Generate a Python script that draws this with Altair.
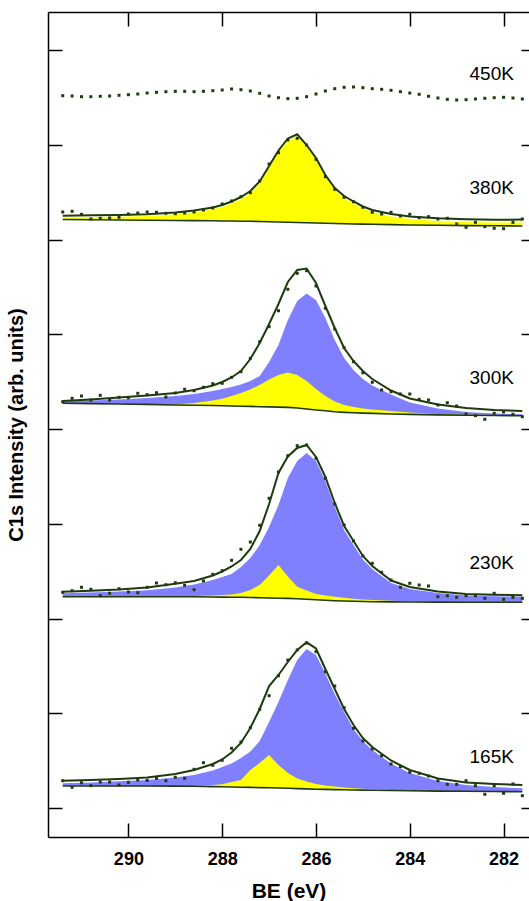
import altair as alt
import pandas as pd

# ---------------- data ----------------
BE_DOTS = [291.4, 291.2, 291.0, 290.8, 290.6, 290.4, 290.2, 290.0, 289.8, 289.6,
           289.4, 289.2, 289.0, 288.8, 288.6, 288.4, 288.2, 288.0, 287.8, 287.6,
           287.4, 287.2, 287.0, 286.8, 286.6, 286.4, 286.2, 286.0, 285.8, 285.6,
           285.4, 285.2, 285.0, 284.8, 284.6, 284.4, 284.2, 284.0, 283.8, 283.6,
           283.4, 283.2, 283.0, 282.8, 282.6, 282.4, 282.2, 282.0, 281.8, 281.6]

BE_FIT = [291.4, 290.8, 290.2, 289.6, 289.0, 288.6, 288.2, 288.0, 287.8, 287.6,
          287.4, 287.2, 287.0, 286.8, 286.6, 286.4, 286.2, 286.0, 285.8, 285.6,
          285.4, 285.2, 285.0, 284.8, 284.4, 284.0, 283.4, 282.8, 282.2, 281.6]

# 450K: raw data only
DOTS_450 = [712.3, 712, 711.3, 711.3, 711.7, 712, 712.7, 713.3, 714, 715,
            715.7, 716.3, 716.7, 716.7, 716.3, 716.7, 717.3, 718, 719, 718.3,
            717, 714.7, 712, 710.3, 709.3, 709.7, 711.3, 714, 717, 719.3,
            720.7, 721, 720.3, 719.3, 718.7, 717.7, 716.3, 715, 713.7, 711.7,
            710, 708.7, 708, 708.3, 709, 709.7, 710.3, 710.7, 710, 709]

# 380K
DOTS_380 = [596, 596.7, 593.7, 589, 589.7, 590, 590.7, 594, 595, 596,
            595.7, 594.7, 594.3, 595, 596, 598, 600, 604, 607, 611.3,
            615.3, 627, 644, 655.3, 668, 669.7, 663, 648.7, 631.3, 618.7,
            610.7, 606.3, 600.7, 595.7, 594, 595.7, 592, 593.7, 590.3, 591.3,
            589, 589.7, 584, 580.7, 585.7, 581.3, 579.7, 579.3, 585.7, 589]
ENV_380 = [592.3, 592.7, 593, 593.7, 595.5, 597.5, 600.5, 603, 606.5, 611,
           617, 626.5, 642, 657.5, 669.5, 673.7, 663, 650, 633, 620,
           612, 606.5, 601.5, 598, 594, 591.5, 589.7, 588.8, 588.2, 588.5]
YEL_380 = [590.5, 591, 591.2, 592, 593.7, 595.7, 598.7, 601, 604.5, 609,
           615, 624.5, 640, 655.5, 667.5, 671.5, 661, 648, 631, 618,
           610, 604.5, 599.5, 596, 591.5, 589, 587, 586, 585.5, 585.5]
BASE_380 = [588.5, 588.3, 588, 587.8, 587.5, 587.4, 587.2, 587, 587, 586.8,
            586.7, 586.5, 586.3, 586, 585.8, 585.5, 585.2, 585, 584.7, 584.5,
            584.3, 584, 583.9, 583.7, 583.4, 583, 582.7, 582.4, 582.2, 582]

# 300K
DOTS_300 = [406.3, 409.7, 412, 408, 412.7, 408, 410.7, 410.3, 414.7, 413.3,
            415.3, 411, 415, 418.7, 417.3, 420.7, 424.3, 424.7, 430.7, 436.3,
            449.7, 466.3, 481.3, 497.3, 518.7, 534.7, 537.3, 522, 499.7, 479,
            460.3, 446.3, 435.3, 425.7, 418, 416.3, 414, 414, 408.7, 408,
            403, 405.3, 402, 394, 392.3, 388.7, 394.7, 396, 393.7, 391.3]
ENV_300 = [407, 408.5, 410.5, 412.5, 415, 418, 422.5, 426, 430.5, 437,
           449, 465, 484, 504, 526, 538, 539.5, 525, 502, 480,
           460, 447, 437, 429, 417.5, 409.5, 403.5, 400, 398, 397]
BLUE_300 = [406.5, 407.5, 408.5, 410, 412, 414, 417, 419, 421, 423.5,
            427, 432, 446, 463, 488, 507, 514.5, 508, 490, 468,
            450, 438, 429, 422.5, 413.5, 405.5, 399.5, 396, 394.5, 393.7]
YEL_300 = [404.9, 404.6, 404.3, 404, 403.6, 405, 407.5, 409.3, 412, 415,
           418.5, 423, 428.5, 433, 435.5, 433, 427, 419, 412, 406.5,
           403, 401, 399.5, 398.5, 397, 395.5, 394, 393.3, 393, 392.7]
BASE_300 = [404.7, 404.4, 404, 403.6, 403, 402.8, 402.5, 402.3, 402, 401.8,
            401.6, 401.3, 401.1, 400.9, 400.6, 400, 399, 398, 397.2, 396.2,
            395.6, 395.2, 394.9, 394.6, 394, 393.6, 393.1, 392.8, 392.5, 392.3]

# 230K
DOTS_230 = [215.7, 217.3, 220.7, 218.7, 212.3, 214.7, 219.3, 216, 215.3, 220.7,
            225, 223.3, 225.3, 222.7, 218.3, 227, 233.7, 237.3, 247.7, 258.7,
            266, 282.7, 309.7, 336, 352.3, 362.3, 363, 349.7, 329.7, 304,
            283, 267, 252, 244.7, 235.7, 228, 220.7, 224.7, 223, 222,
            211.3, 212.3, 210.7, 212.3, 212.3, 209.7, 214.7, 208.7, 210.7, 209.7]
ENV_230 = [216.3, 217.2, 218.5, 220.5, 224.2, 227, 232.5, 236.5, 241.5, 248,
           259, 277, 304, 335, 351.5, 360, 363, 351, 331, 305,
           282, 267, 252, 242, 227.5, 221, 216.5, 214, 213.2, 212.7]
BLUE_230 = [214.7, 215.5, 216.5, 217.7, 220.5, 223.5, 228, 231, 234, 241,
            250, 263, 281, 303, 330, 347, 355, 347, 327, 301,
            278, 263, 248.5, 239, 225, 219, 215, 212.5, 211.7, 211.3]
YEL_230 = [211.5, 211.5, 211.5, 211.5, 211.7, 212, 212.5, 213, 213.5, 215,
           218, 223, 232.5, 243, 231.5, 221.3, 217.5, 214, 212.5, 211.2,
           210.2, 209.2, 208.5, 208, 207.2, 206.7, 206.3, 206, 205.8, 205.7]
BASE_230 = [211.3, 211.3, 211.3, 211.3, 211.3, 211.2, 211, 210.9, 210.8, 210.7,
            210.5, 210.3, 210, 209.8, 209.6, 209.2, 208.7, 208.2, 207.7, 207.3,
            207, 206.7, 206.5, 206.3, 206.1, 206, 205.9, 205.8, 205.7, 205.7]

# 165K
DOTS_165 = [27.3, 20.7, 25.3, 22.3, 26, 26, 23, 25.7, 28, 27.7,
            29.7, 27.3, 30.7, 29.7, 38.7, 45.3, 42.7, 47.7, 59.7, 66,
            80.3, 98.7, 112.3, 132.3, 148, 158, 165, 156.3, 136.3, 122,
            100.3, 79.7, 67, 59, 52.3, 44, 41.3, 35.7, 34.7, 32,
            27.3, 23.7, 23.7, 27.3, 22.3, 13.7, 22.3, 14.7, 24, 12.3]
ENV_165 = [27.3, 28, 29, 30.5, 34, 38, 44, 48.5, 55.5, 65,
           80, 99, 122, 133, 146, 158, 165.7, 159.5, 139, 119,
           99, 83, 70, 61, 47.5, 38, 29.5, 25.5, 24, 23]
BLUE_165 = [24.7, 25.5, 26.7, 28, 30.5, 33, 37.5, 41, 44.5, 50,
            56.5, 67, 86, 106, 128, 148, 159, 153, 134.5, 114,
            96, 79, 67, 58, 44.5, 35, 27, 23, 21, 19.7]
YEL_165 = [22.3, 22.2, 22.1, 22, 22, 22.3, 23, 23.7, 26, 28,
           38, 45, 53, 43, 35, 29.5, 26.5, 24, 22.5, 21.5,
           20.5, 19.7, 19.2, 18.8, 18, 17.5, 17, 16.7, 16.5, 16.3]
BASE_165 = [22, 22, 22, 22, 21.9, 21.7, 21.4, 21.2, 21, 20.8,
            20.6, 20.4, 20.2, 20, 19.7, 19.4, 19.1, 18.8, 18.6, 18.4,
            18.2, 18, 17.9, 17.8, 17.5, 17.2, 16.9, 16.7, 16.5, 16.3]

LABELS = ["450K", "380K", "300K", "230K", "165K"]
LABEL_BE = [281.78, 281.78, 281.78, 281.78, 281.78]
LABEL_Y = [734, 620.5, 430, 245, 51]

X_TICKS = [282, 284, 286, 288, 290]
Y_TICKS = [0, 94.7, 189.4, 284.1, 378.8, 473.5, 568.2, 662.9, 757.6]
X_DOMAIN = [281.458, 291.714]
Y_DOMAIN = [-29, 796]

# ---------------- tables ----------------
fit_rows, blue_rows, dot_rows = [], [], []
for name, env, yel, blue, base in [
    ("380K", ENV_380, YEL_380, None, BASE_380),
    ("300K", ENV_300, YEL_300, BLUE_300, BASE_300),
    ("230K", ENV_230, YEL_230, BLUE_230, BASE_230),
    ("165K", ENV_165, YEL_165, BLUE_165, BASE_165),
]:
    for i, be in enumerate(BE_FIT):
        fit_rows.append({"spectrum": name, "be": be, "env": env[i],
                         "yellow": yel[i], "base": base[i]})
        if blue is not None:
            blue_rows.append({"spectrum": name, "be": be, "blue": blue[i],
                              "base": base[i]})
for name, vals in [("450K", DOTS_450), ("380K", DOTS_380), ("300K", DOTS_300),
                   ("230K", DOTS_230), ("165K", DOTS_165)]:
    for be, v in zip(BE_DOTS, vals):
        dot_rows.append({"spectrum": name, "be": be, "counts": v})

fit = pd.DataFrame(fit_rows)
blue_df = pd.DataFrame(blue_rows)
dots = pd.DataFrame(dot_rows)
labels = pd.DataFrame({"label": LABELS, "be": LABEL_BE, "counts": LABEL_Y})

# ---------------- styling ----------------
FONT = "Liberation Sans"
DK = "#1f3a0e"
BLUE = "#8080FF"
YELLOW = "#FFFF00"

xs = alt.Scale(domain=X_DOMAIN, reverse=True, nice=False, zero=False)
ys = alt.Scale(domain=Y_DOMAIN, nice=False, zero=False)

ax_bottom = alt.Axis(orient="bottom", values=X_TICKS, ticks=False, grid=False,
                     domain=True, domainColor="black", domainWidth=1.5,
                     labelFont=FONT, labelFontSize=18, labelFontWeight="bold",
                     labelColor="black", labelPadding=13, labelFlush=False,
                     format="d", title="BE (eV)", titleFont=FONT,
                     titleFontSize=21, titleFontWeight="bold",
                     titleColor="black", titlePadding=12)
ax_bottom_ticks = alt.Axis(orient="bottom", values=X_TICKS, offset=-14,
                           tickSize=14, tickWidth=1.5, tickColor="black",
                           domain=False, labels=False, grid=False, title=None)
ax_top = alt.Axis(orient="top", values=X_TICKS, ticks=False, labels=False,
                  grid=False, domain=True, domainColor="black",
                  domainWidth=1.5, title=None)
ax_top_ticks = alt.Axis(orient="top", values=X_TICKS, offset=-14, tickSize=14,
                        tickWidth=1.5, tickColor="black", domain=False,
                        labels=False, grid=False, title=None)
ay_left = alt.Axis(orient="left", values=Y_TICKS, ticks=False, labels=False,
                   grid=False, domain=True, domainColor="black",
                   domainWidth=1.5, title="C1s Intensity (arb. units)",
                   titleFont=FONT, titleFontSize=20, titleFontWeight="bold",
                   titleColor="black", titlePadding=22)
ay_left_ticks = alt.Axis(orient="left", values=Y_TICKS, offset=-14,
                         tickSize=14, tickWidth=1.5, tickColor="black",
                         domain=False, labels=False, grid=False, title=None)
ay_right_ticks = alt.Axis(orient="right", values=Y_TICKS, offset=-8,
                          tickSize=14, tickWidth=1.5, tickColor="black",
                          domain=False, labels=False, grid=False, title=None)

blue_area = alt.Chart(blue_df).mark_area(color=BLUE, opacity=1).encode(
    x=alt.X("be:Q", scale=xs, axis=ax_bottom),
    y=alt.Y("blue:Q", scale=ys, axis=ay_left),
    y2="base:Q",
    detail="spectrum:N",
)
yellow_area = alt.Chart(fit).mark_area(color=YELLOW, opacity=1).encode(
    x=alt.X("be:Q", scale=xs, axis=ax_bottom_ticks),
    y=alt.Y("yellow:Q", scale=ys, axis=ay_left_ticks),
    y2="base:Q",
    detail="spectrum:N",
)
base_line = alt.Chart(fit).mark_line(color=DK, strokeWidth=1.6).encode(
    x=alt.X("be:Q", scale=xs, axis=ax_top),
    y=alt.Y("base:Q", scale=ys, axis=ay_right_ticks),
    detail="spectrum:N",
)
env_line = alt.Chart(fit).mark_line(color=DK, strokeWidth=2).encode(
    x=alt.X("be:Q", scale=xs, axis=ax_top_ticks),
    y=alt.Y("env:Q", scale=ys, axis=None),
    detail="spectrum:N",
)
dot_layer = alt.Chart(dots).mark_square(size=9, color=DK, opacity=1).encode(
    x=alt.X("be:Q", scale=xs, axis=None),
    y=alt.Y("counts:Q", scale=ys, axis=None),
)
label_layer = alt.Chart(labels).mark_text(
    align="right", baseline="middle", font=FONT, fontSize=19, color="black"
).encode(
    x=alt.X("be:Q", scale=xs, axis=None),
    y=alt.Y("counts:Q", scale=ys, axis=None),
    text="label:N",
)

chart = alt.layer(
    blue_area, yellow_area, base_line, env_line, dot_layer, label_layer
).resolve_axis(
    x="independent", y="independent"
).properties(
    width=481, height=825,
    padding={"left": 48, "top": 12, "right": 0, "bottom": 64},
    autosize=alt.AutoSizeParams(type="none"),
    background="white",
).configure_view(stroke=None)

chart.save("out.html", embed_options={"renderer": "svg", "actions": False})
